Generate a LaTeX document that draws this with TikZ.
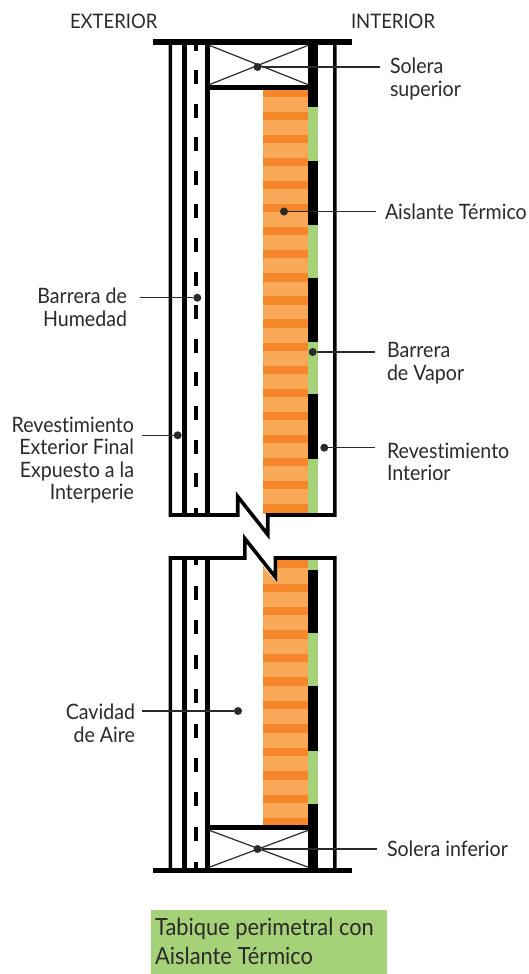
\documentclass[tikz,border=0pt]{standalone}
\usepackage{fontspec}
\setmainfont[FakeStretch=0.925,Ligatures=NoCommon]{Lato}
\definecolor{ink}{HTML}{2B2A29}
\definecolor{orD}{HTML}{F6862A}
\definecolor{orL}{HTML}{F9A857}
\definecolor{grn}{HTML}{A5D279}
\tikzset{
 lab/.style={font=\fontsize{21.2}{22.6}\selectfont,text=ink,inner ysep=0pt,outer sep=0pt},
 labl/.style={lab,align=left,anchor=west},
 labr/.style={lab,align=right,anchor=east},
 side/.style={font=\fontsize{20}{22.6}\selectfont,text=ink,inner sep=0pt,outer sep=0pt,anchor=base west},
 dotn/.style={circle,fill=ink,minimum size=8pt,inner sep=0pt,outer sep=0pt},
 conn/.style={draw=ink,line width=1.3pt},
 wall/.style={draw=black,line width=3.6pt},
 cross/.style={draw=ink,line width=1.2pt},
}
\begin{document}
\begin{tikzpicture}[x=1pt,y=-1pt]
\useasboundingbox (0,0) rectangle (529,974);
% insulation upper
\fill[orL] (262.7,90) rectangle (308,514);
\fill[orD] (262.7,90) rectangle (308,97);
\foreach \k in {0,...,17}{\fill[orD] (262.7,111.5+23.1*\k) rectangle (308,119.8+23.1*\k);}
% insulation lower
\begin{scope}
\clip (262.7,566) -- (275.3,581) -- (275.3,558) -- (308,558) -- (308,826) -- (262.7,826) -- cycle;
\fill[orL] (262.7,558) rectangle (308,826);
\fill[orD] (262.7,558) rectangle (308,568);
\foreach \k in {0,...,10}{\fill[orD] (262.7,583.5+23.45*\k) rectangle (308,592+23.45*\k);}
\end{scope}
% vapour barrier upper
\fill[grn] (307.7,90) rectangle (318,514);
\foreach \a/\b in {45/107,160.5/225,278/342,394/459}{\fill[black] (307.7,\a) rectangle (318,\b);}
% vapour barrier lower
\fill[grn] (307.7,558) rectangle (318,868);
\foreach \a/\b in {570/633,686/751,804/868}{\fill[black] (307.7,\a) rectangle (318,\b);}
% vertical lines
\foreach \x/\w in {184.5/4.6,207.5/5}{
 \draw[black,line width=\w pt] (\x,45) -- (\x,515);
 \draw[black,line width=\w pt] (\x,558) -- (\x,868);}
% dashes
\fill[black] (193.5,45) rectangle (198,50.7);
\foreach \k in {0,...,12}{\fill[black] (193.5,70+33.6*\k) rectangle (198,84+33.6*\k);}
\fill[black] (193.5,508) rectangle (198,514);
\fill[black] (193.5,558) rectangle (198,565);
\foreach \k in {0,...,7}{\fill[black] (193.5,586+34.4*\k) rectangle (198,600+34.4*\k);}
\fill[black] (193.5,862) rectangle (198,868);
% plates
\draw[black,line width=5pt] (205,87.5) -- (318,87.5);
\draw[black,line width=5pt] (205,827.5) -- (318,827.5);
\draw[cross] (208.5,45) -- (309,85);
\draw[cross] (208.5,85) -- (309,45);
\draw[cross] (208.5,830) -- (309,867.5);
\draw[cross] (208.5,867.5) -- (309,830);
% outline with breaks
\draw[wall,miter limit=10] (170.3,45) -- (170.3,515) -- (237.7,515) -- (237.7,496.5) -- (267.7,534.5) -- (267.7,515) -- (334.8,515) -- (334.8,45);
\draw[wall,miter limit=10] (170.3,868) -- (170.3,558) -- (244.8,558) -- (244.8,538.5) -- (275.3,577) -- (275.3,558) -- (334.8,558) -- (334.8,868);
% top and bottom bars
\fill[black] (153,39.3) rectangle (351.5,44.7);
\fill[black] (153,867.5) rectangle (351.5,872.8);
% labels
\node[side] (ext) at (70,28.5) {EXTERIOR};
\node[side] (int) at (351,28.5) {INTERIOR};
\node[labl,inner xsep=10pt] (ss) at (380,79) {Solera\\superior};
\node[labl,inner xsep=9pt] (at) at (376,212) {Aislante Térmico};
\node[labl,inner xsep=12pt] (bv) at (375,363) {Barrera\\de Vapor};
\node[labl,inner xsep=12pt] (ri) at (375,462) {Revestimiento\\Interior};
\node[labl,inner xsep=10pt] (si) at (377,849) {Solera inferior};
\node[labr,inner xsep=13pt] (bh) at (140,307) {Barrera de\\Humedad};
\node[labr,inner xsep=8pt] (re) at (142,460) {Revestimiento\\Exterior Final\\Expuesto a la\\Interperie};
\node[labr,inner xsep=7pt] (ca) at (142,723) {Cavidad\\de Aire};
% dots
\node[dotn] (d1) at (257.5,67) {};
\node[dotn] (d2) at (284,211.5) {};
\node[dotn] (d3) at (312.7,352) {};
\node[dotn] (d4) at (324.3,447.7) {};
\node[dotn] (d5) at (257.5,849) {};
\node[dotn] (d6) at (197.3,297.7) {};
\node[dotn] (d7) at (177.7,435.3) {};
\node[dotn] (d8) at (238,711) {};
% connectors
\draw[conn] (d1) -- (d1 -| ss.west);
\draw[conn] (d2) -- (d2 -| at.west);
\draw[conn] (d3) -- (d3 -| bv.west);
\draw[conn] (d4) -- (d4 -| ri.west);
\draw[conn] (d5) -- (d5 -| si.west);
\draw[conn] (d6) -- (d6 -| bh.east);
\draw[conn] (d7) -- (d7 -| re.east);
\draw[conn] (d8) -- (d8 -| ca.east);
% title
\node[fill=grn,minimum width=236pt,minimum height=63.5pt,outer sep=0pt,inner sep=0pt,anchor=north west] (tb) at (151,910) {};
\node[font=\fontsize{23.6}{29}\selectfont,text=ink,align=left,anchor=west,inner sep=0pt] (tt) at (155,941.5) {Tabique perimetral con\\Aislante Térmico};
\end{tikzpicture}
\end{document}
